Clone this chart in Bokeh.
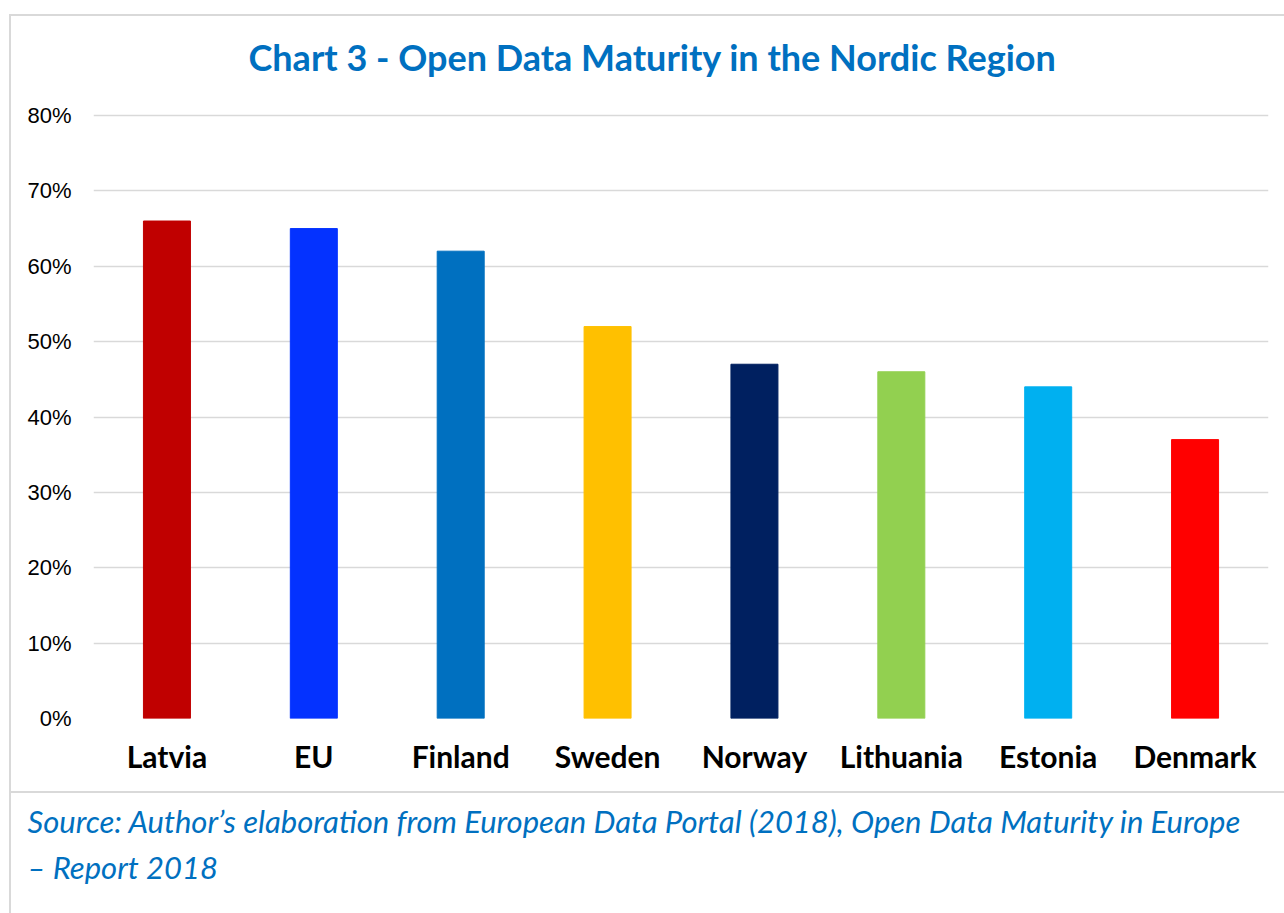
from bokeh.plotting import figure
from bokeh.models import (Range1d, FactorRange, NumeralTickFormatter, FixedTicker,
                          Title, ColumnDataSource)
from bokeh.embed import file_html
from bokeh.resources import INLINE

categories = ["Latvia", "EU", "Finland", "Sweden", "Norway", "Lithuania", "Estonia", "Denmark"]
values = [0.66, 0.65, 0.62, 0.52, 0.47, 0.46, 0.44, 0.37]
colors = ["#C00000", "#0432FF", "#0070C0", "#FFC000", "#002060", "#92D050", "#00B0F0", "#FF0000"]
y_ticks = [0.0, 0.1, 0.2, 0.3, 0.4, 0.5, 0.6, 0.7, 0.8]
title_text = "Chart 3 - Open Data Maturity in the Nordic Region"
source_lines = ["Source: Author\u2019s elaboration from European Data Portal (2018), Open Data Maturity in Europe",
                "\u2013 Report 2018"]

W, H = 1284, 913
FL, FR, FB = 93, 1268, 718      # frame left/right/bottom in pixels
G80 = 115                        # pixel row of the 80% gridline
FT = 110                         # frame top (a little above the top gridline)
YTOP = 0.8 * (FB - FT) / (FB - G80)

p = figure(width=W, height=H, x_range=FactorRange(*categories, range_padding=0),
           y_range=Range1d(0, YTOP), output_backend="svg", toolbar_location=None,
           min_border_left=FL, min_border_right=W - FR, min_border_top=FT, min_border_bottom=H - FB)
p.outline_line_color = None
p.background_fill_color = None
p.border_fill_color = None

# frame lines of the chart box and the source box (drawn behind the transparent canvas)
g = "linear-gradient(#D9D9D9, #D9D9D9)"
p.styles = {
    "background-color": "white",
    "background-image": ", ".join([g, g, g]),
    "background-size": "2px 905px, 1290px 2px, 1290px 2px",
    "background-position": "9px 14px, 9px 14px, 9px 791px",
    "background-repeat": "no-repeat",
}

src = ColumnDataSource(dict(cat=categories, val=values, col=colors))
p.vbar(x="cat", top="val", width=0.32, color="col", source=src)

p.yaxis.ticker = FixedTicker(ticks=y_ticks)
p.yaxis.formatter = NumeralTickFormatter(format="0%")
p.yaxis.axis_line_color = None
p.yaxis.major_tick_line_color = None
p.yaxis.minor_tick_line_color = None
p.yaxis.major_tick_out = 0
p.yaxis.major_label_standoff = 22
p.yaxis.major_label_text_font = "Liberation Sans"
p.yaxis.major_label_text_font_size = "22px"
p.yaxis.major_label_text_color = "#000000"

p.xaxis.axis_line_color = None
p.xaxis.major_tick_line_color = None
p.xaxis.major_tick_out = 0
p.xaxis.major_label_standoff = 19
p.xaxis.major_label_text_font = "Lato"
p.xaxis.major_label_text_font_style = "bold"
p.xaxis.major_label_text_font_size = "30px"
p.xaxis.major_label_text_color = "#000000"
# blank axis label used only as vertical spacing before the source note
p.xaxis.axis_label = "\u00a0"
p.xaxis.axis_label_standoff = 0
p.xaxis.axis_label_text_font_size = "16px"

p.xgrid.grid_line_color = None
p.ygrid.grid_line_color = "#D9D9D9"
p.ygrid.grid_line_width = 1.5

p.add_layout(Title(text=title_text, align="left", offset=155, standoff=63,
                   text_font="Lato", text_font_style="bold", text_font_size="36px",
                   text_color="#0070C0"), "above")
for line in source_lines:
    p.add_layout(Title(text=line, align="left", offset=27 - FL, standoff=6,
                       text_font="Lato", text_font_style="italic", text_font_size="31px",
                       text_color="#0070C0"), "below")

open("out.html", "w").write(file_html(p, INLINE))
